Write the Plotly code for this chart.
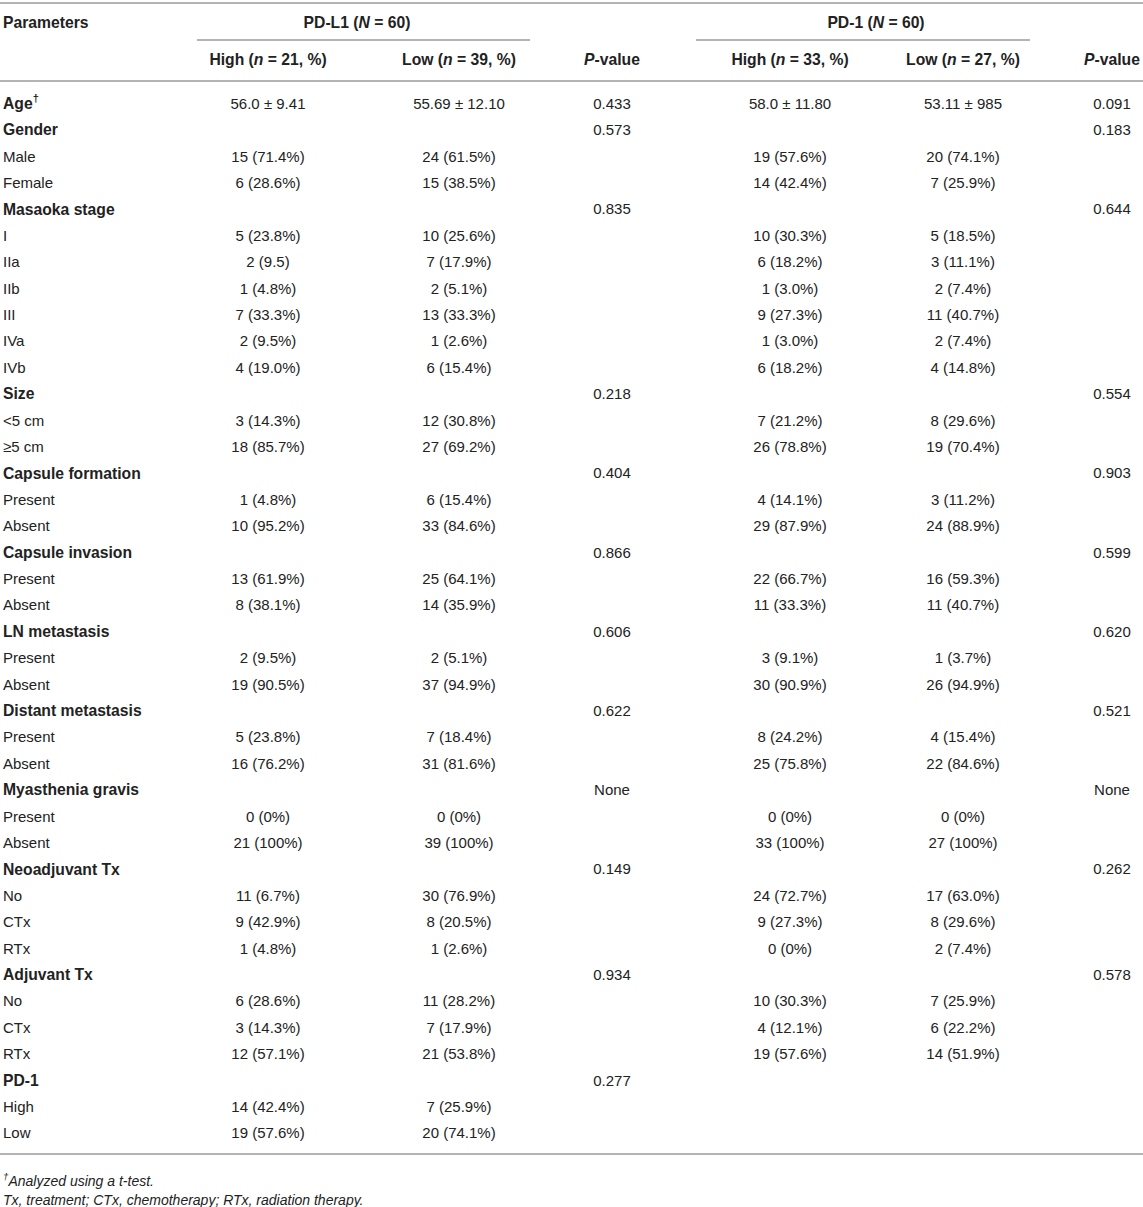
# Recreate clinicopathological table for PD-L1 / PD-1 expression as a plotly figure.

import plotly.graph_objects as go

## Data
PARAMS = [
    "Age<sup>†</sup>", "Gender", "Male", "Female",
    "Masaoka stage", "I", "IIa", "IIb", "III", "IVa", "IVb",
    "Size", "&lt;5 cm", "≥5 cm",
    "Capsule formation", "Present", "Absent",
    "Capsule invasion", "Present", "Absent",
    "LN metastasis", "Present", "Absent",
    "Distant metastasis", "Present", "Absent",
    "Myasthenia gravis", "Present", "Absent",
    "Neoadjuvant Tx", "No", "CTx", "RTx",
    "Adjuvant Tx", "No", "CTx", "RTx",
    "PD-1", "High", "Low",
]
GROUP_ROWS = [0, 1, 4, 11, 14, 17, 20, 23, 26, 29, 33, 37]

PDL1_HIGH = [
    "56.0 ± 9.41", "", "15 (71.4%)", "6 (28.6%)",
    "", "5 (23.8%)", "2 (9.5)", "1 (4.8%)", "7 (33.3%)", "2 (9.5%)", "4 (19.0%)",
    "", "3 (14.3%)", "18 (85.7%)",
    "", "1 (4.8%)", "10 (95.2%)",
    "", "13 (61.9%)", "8 (38.1%)",
    "", "2 (9.5%)", "19 (90.5%)",
    "", "5 (23.8%)", "16 (76.2%)",
    "", "0 (0%)", "21 (100%)",
    "", "11 (6.7%)", "9 (42.9%)", "1 (4.8%)",
    "", "6 (28.6%)", "3 (14.3%)", "12 (57.1%)",
    "", "14 (42.4%)", "19 (57.6%)",
]
PDL1_LOW = [
    "55.69 ± 12.10", "", "24 (61.5%)", "15 (38.5%)",
    "", "10 (25.6%)", "7 (17.9%)", "2 (5.1%)", "13 (33.3%)", "1 (2.6%)", "6 (15.4%)",
    "", "12 (30.8%)", "27 (69.2%)",
    "", "6 (15.4%)", "33 (84.6%)",
    "", "25 (64.1%)", "14 (35.9%)",
    "", "2 (5.1%)", "37 (94.9%)",
    "", "7 (18.4%)", "31 (81.6%)",
    "", "0 (0%)", "39 (100%)",
    "", "30 (76.9%)", "8 (20.5%)", "1 (2.6%)",
    "", "11 (28.2%)", "7 (17.9%)", "21 (53.8%)",
    "", "7 (25.9%)", "20 (74.1%)",
]
PDL1_P = [
    "0.433", "0.573", "", "",
    "0.835", "", "", "", "", "", "",
    "0.218", "", "",
    "0.404", "", "",
    "0.866", "", "",
    "0.606", "", "",
    "0.622", "", "",
    "None", "", "",
    "0.149", "", "", "",
    "0.934", "", "", "",
    "0.277", "", "",
]
PD1_HIGH = [
    "58.0 ± 11.80", "", "19 (57.6%)", "14 (42.4%)",
    "", "10 (30.3%)", "6 (18.2%)", "1 (3.0%)", "9 (27.3%)", "1 (3.0%)", "6 (18.2%)",
    "", "7 (21.2%)", "26 (78.8%)",
    "", "4 (14.1%)", "29 (87.9%)",
    "", "22 (66.7%)", "11 (33.3%)",
    "", "3 (9.1%)", "30 (90.9%)",
    "", "8 (24.2%)", "25 (75.8%)",
    "", "0 (0%)", "33 (100%)",
    "", "24 (72.7%)", "9 (27.3%)", "0 (0%)",
    "", "10 (30.3%)", "4 (12.1%)", "19 (57.6%)",
    "", "", "",
]
PD1_LOW = [
    "53.11 ± 985", "", "20 (74.1%)", "7 (25.9%)",
    "", "5 (18.5%)", "3 (11.1%)", "2 (7.4%)", "11 (40.7%)", "2 (7.4%)", "4 (14.8%)",
    "", "8 (29.6%)", "19 (70.4%)",
    "", "3 (11.2%)", "24 (88.9%)",
    "", "16 (59.3%)", "11 (40.7%)",
    "", "1 (3.7%)", "26 (94.9%)",
    "", "4 (15.4%)", "22 (84.6%)",
    "", "0 (0%)", "27 (100%)",
    "", "17 (63.0%)", "8 (29.6%)", "2 (7.4%)",
    "", "7 (25.9%)", "6 (22.2%)", "14 (51.9%)",
    "", "", "",
]
PD1_P = [
    "0.091", "0.183", "", "",
    "0.644", "", "", "", "", "", "",
    "0.554", "", "",
    "0.903", "", "",
    "0.599", "", "",
    "0.620", "", "",
    "0.521", "", "",
    "None", "", "",
    "0.262", "", "", "",
    "0.578", "", "", "",
    "", "", "",
]

GROUP_HEADERS = ["PD-L1 (<i>N</i> = 60)", "PD-1 (<i>N</i> = 60)"]
SUB_HEADERS = [
    "High (<i>n</i> = 21, %)", "Low (<i>n</i> = 39, %)", "<i>P</i>-value",
    "High (<i>n</i> = 33, %)", "Low (<i>n</i> = 27, %)", "<i>P</i>-value",
]
FOOTNOTES = [
    "<i><sup>†</sup>Analyzed using a t-test.</i>",
    "<i>Tx, treatment; CTx, chemotherapy; RTx, radiation therapy.</i>",
]

## Layout constants (pixel-like coordinates)
W, H = 1143, 1207
FONT = "Liberation Sans, Arial, sans-serif"
TXT = "#222222"
RULE = "#b4b4b4"
FS = 15
FS_BOLD = 15.7
ROW0, ROWSTEP = 105, 26.4
COL_X = [268, 459, 612, 790, 963, 1112]
row_y = [ROW0 + i * ROWSTEP for i in range(len(PARAMS))]


def text_trace(x, y, text, pos="middle center", size=FS):
    return go.Scatter(
        x=x, y=y, text=text, mode="text", textposition=pos,
        textfont=dict(family=FONT, size=size, color=TXT),
        hoverinfo="skip", showlegend=False,
    )


fig = go.Figure()

# Parameter column: group names in bold, levels in regular
bold_rows = [i for i in range(len(PARAMS)) if i in GROUP_ROWS]
plain_rows = [i for i in range(len(PARAMS)) if i not in GROUP_ROWS]
fig.add_trace(text_trace([3] * len(bold_rows), [row_y[i] for i in bold_rows],
                         [f"<b>{PARAMS[i]}</b>" for i in bold_rows], "middle right", FS_BOLD))
fig.add_trace(text_trace([3] * len(plain_rows), [row_y[i] for i in plain_rows],
                         [PARAMS[i] for i in plain_rows], "middle right"))

# Value columns
for cx, col in zip(COL_X, [PDL1_HIGH, PDL1_LOW, PDL1_P, PD1_HIGH, PD1_LOW, PD1_P]):
    fig.add_trace(text_trace([cx] * len(col), row_y, col))

# Headers
fig.add_trace(text_trace([3], [24], ["<b>Parameters</b>"], "middle right", FS_BOLD))
fig.add_trace(text_trace([357, 876], [24, 24], [f"<b>{t}</b>" for t in GROUP_HEADERS],
                         size=FS_BOLD))
fig.add_trace(text_trace(COL_X, [61] * len(COL_X), [f"<b>{t}</b>" for t in SUB_HEADERS],
                         size=FS_BOLD))

# Footnotes
fig.add_trace(text_trace([3, 3], [1182, 1201], FOOTNOTES, "middle right", 14))

# Rules
for x0, x1, y in [(0, W, 3), (197, 530, 40), (696, 1030, 40), (0, W, 81), (0, W, 1154)]:
    fig.add_shape(type="line", x0=x0, x1=x1, y0=y, y1=y, xref="x", yref="y",
                  line=dict(color=RULE, width=2))

fig.update_layout(
    width=W, height=H, margin=dict(l=0, r=0, t=0, b=0),
    paper_bgcolor="white", plot_bgcolor="white",
)
fig.update_xaxes(range=[0, W], visible=False, fixedrange=True)
fig.update_yaxes(range=[H, 0], visible=False, fixedrange=True)

fig.write_html("out.html", config={"displayModeBar": False},
               post_script="document.body.style.margin = '0';")
